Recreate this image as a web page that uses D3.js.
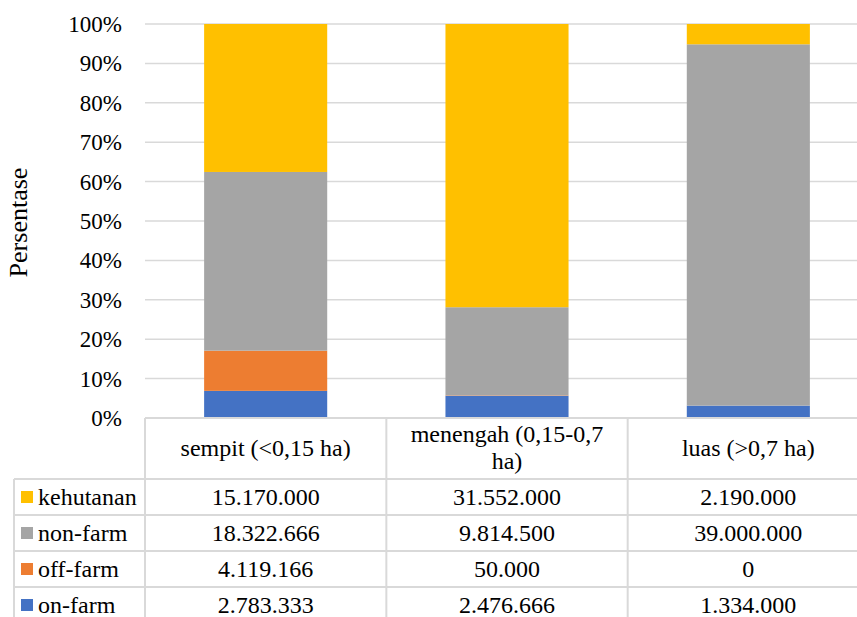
<!DOCTYPE html>
<html>
<head>
<meta charset="utf-8">
<script src="https://cdnjs.cloudflare.com/ajax/libs/d3/7.9.0/d3.min.js"></script>
<style>
  body { margin: 0; background: #fff; }
</style>
</head>
<body>
<svg id="chart" width="857" height="617"></svg>
<script>
const categories = ['sempit (<0,15 ha)', 'menengah (0,15-0,7 ha)', 'luas (>0,7 ha)'];
const categoryLines = [['sempit (<0,15 ha)'], ['menengah (0,15-0,7', 'ha)'], ['luas (>0,7 ha)']];
// stack order bottom -> top
const seriesNames = ['on-farm', 'off-farm', 'non-farm', 'kehutanan'];
const seriesColors = ['#4472C4', '#ED7D31', '#A5A5A5', '#FFC000'];
const onFarm = [2783333, 2476666, 1334000];
const offFarm = [4119166, 50000, 0];
const nonFarm = [18322666, 9814500, 39000000];
const kehutanan = [15170000, 31552000, 2190000];
const tableLabels = [
  ['15.170.000', '31.552.000', '2.190.000'],
  ['18.322.666', '9.814.500', '39.000.000'],
  ['4.119.166', '50.000', '0'],
  ['2.783.333', '2.476.666', '1.334.000']
];
const yTicks = [0, 0.1, 0.2, 0.3, 0.4, 0.5, 0.6, 0.7, 0.8, 0.9, 1];

const svg = d3.select('#chart');
const GRID = '#d9d9d9';
const FONT = '"Liberation Serif", "Times New Roman", serif';
const plotL = 145, plotR = 869, plotT = 24, plotB = 418;

const txt = (sel, size = 24) => sel.style('font-family', FONT).style('font-size', size + 'px').style('fill', '#000');

const x = d3.scaleBand().domain(categories).range([plotL, plotR]).paddingInner(0).paddingOuter(0);
const y = d3.scaleLinear().domain([0, 1]).range([plotB, plotT]);

// gridlines
svg.append('g').selectAll('line').data(yTicks).join('line')
  .attr('x1', plotL).attr('x2', plotR)
  .attr('y1', d => y(d)).attr('y2', d => y(d))
  .attr('stroke', GRID).attr('stroke-width', 1.5);

// y axis labels
const yAxis = d3.axisLeft(y).tickValues(yTicks).tickFormat(d3.format('.0%')).tickSize(0).tickPadding(0);
const ya = svg.append('g').attr('transform', 'translate(122,0)').call(yAxis);
ya.select('.domain').remove();
ya.selectAll('text').attr('dy', '0.33em').call(txt, 23);

svg.append('text').attr('transform', `translate(27,${(plotT + plotB) / 2 + 1.5}) rotate(-90)`)
  .attr('text-anchor', 'middle').call(txt, 26).text('Persentase');

// stacked percent data
const rows = categories.map((c, i) => ({
  cat: c, 'on-farm': onFarm[i], 'off-farm': offFarm[i], 'non-farm': nonFarm[i], 'kehutanan': kehutanan[i]
}));
const stack = d3.stack().keys(seriesNames).offset(d3.stackOffsetExpand);
const layers = stack(rows);

const barW = x.bandwidth() * 0.51;
svg.append('g').selectAll('g').data(layers).join('g')
  .attr('fill', (d, i) => seriesColors[i])
  .selectAll('rect').data(d => d).join('rect')
  .attr('x', d => x(d.data.cat) + (x.bandwidth() - barW) / 2)
  .attr('width', barW)
  .attr('y', d => y(d[1]))
  .attr('height', d => y(d[0]) - y(d[1]));

// data table
const tableLeft = 14;
const headerBottom = 479;
const rowH = 36;
const tbl = svg.append('g');
const lineAttrs = sel => sel.attr('stroke', GRID).attr('stroke-width', 2);

tbl.append('line').attr('x1', plotL).attr('x2', plotR).attr('y1', plotB).attr('y2', plotB).call(lineAttrs);
const rowTops = d3.range(5).map(i => headerBottom + i * rowH);
tbl.selectAll('line.h').data(rowTops).join('line').attr('class', 'h')
  .attr('x1', tableLeft).attr('x2', plotR).attr('y1', d => d).attr('y2', d => d).call(lineAttrs);
const colEdges = categories.map(c => x(c)).concat([plotR]);
tbl.selectAll('line.v').data(colEdges).join('line').attr('class', 'v')
  .attr('x1', d => d).attr('x2', d => d).attr('y1', plotB).attr('y2', 630).call(lineAttrs);
tbl.append('line').attr('x1', tableLeft).attr('x2', tableLeft)
  .attr('y1', headerBottom).attr('y2', 630).call(lineAttrs);

// header text
categoryLines.forEach((lines, i) => {
  const cx = x(categories[i]) + x.bandwidth() / 2;
  const cy = (plotB + headerBottom) / 2;
  const t = svg.append('text').attr('text-anchor', 'middle').call(txt);
  lines.forEach((ln, k) => {
    t.append('tspan').attr('x', cx)
      .attr('y', cy + 7 + (k - (lines.length - 1) / 2) * 27).text(ln);
  });
});

// table rows, top row = kehutanan
const tableSeries = ['kehutanan', 'non-farm', 'off-farm', 'on-farm'];
tableSeries.forEach((s, r) => {
  const cy = headerBottom + r * rowH + rowH / 2;
  const si = seriesNames.indexOf(s);
  svg.append('rect').attr('x', 21).attr('y', cy - 6).attr('width', 12).attr('height', 12)
    .attr('fill', seriesColors[si]);
  svg.append('text').attr('x', 38).attr('y', cy + 8).call(txt).text(s);
  categories.forEach((c, j) => {
    svg.append('text').attr('x', x(c) + x.bandwidth() / 2).attr('y', cy + 8)
      .attr('text-anchor', 'middle').call(txt).text(tableLabels[r][j]);
  });
});
</script>
</body>
</html>
